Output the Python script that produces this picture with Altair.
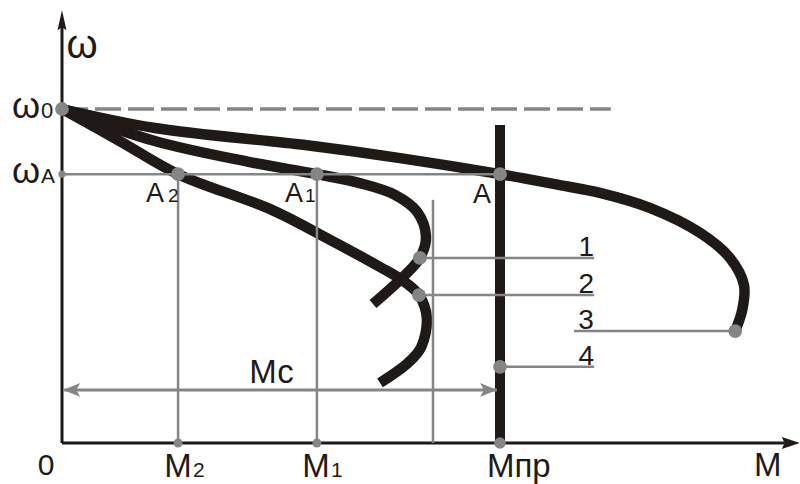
import altair as alt
import pandas as pd

# --- values (ω0 = 100 speed units, Mпр = 100 torque units) ---
W0 = 100.0          # ideal no-load speed ω0
WA = 80.5           # speed ωA of the working points
M_PR = 100.0        # limiting torque Mпр
M1 = 58.2           # torque at A1
M2 = 26.5           # torque at A2
MC_LEVEL = 15.9     # height of the Mс dimension arrow
DASH_END = 125.3    # end of the ω0 dashed line
PR_TOP = 95.2       # top of the Mпр line
GUIDE_M = 84.7      # vertical guide line near the turning points
GUIDE_TOP = 72.8

# mechanical characteristics 1, 2, 3 (M, ω)
curve1_m = [0, 21.2, 42.9, 58.2, 68.0, 76.0, 81.1, 83.1, 81.7, 77.6, 71.0]
curve1_w = [100, 90.4, 84.1, 80.5, 77.8, 74.3, 69.2, 61.7, 55.4, 49.4, 41.6]
curve2_m = [0, 13.2, 26.5, 47.9, 61.2, 72.6, 77.6, 81.5, 83.3, 82.0, 79.0, 72.6]
curve2_w = [100, 90.4, 80.5, 69.8, 60.8, 52.7, 48.8, 44.3, 37.4, 28.7, 24.0, 18.0]
curve3_m = [0, 21.2, 55.5, 77.2, 100, 113.7, 122.8, 134.2, 145.7, 152.5, 155.7, 155.3, 153.7]
curve3_w = [100, 94.3, 89.2, 85.3, 80.5, 77.2, 74.9, 70.4, 62.9, 55.4, 47.3, 39.8, 33.5]

# leader lines for the curve numbers 1..4
leader_names = ["1", "2", "3", "4"]
leader_w = [55.4, 44.3, 33.5, 22.8]
leader_m_start = [81.7, 81.5, 116.9, 100.0]
leader_m_end = [121.5, 121.5, 153.7, 121.5]
leader_point_m = [81.7, 81.5, 153.7, 100.0]

# axis extents
Y_AXIS_TOP = 126.0
Y_ARROW_W = 126.6
X_AXIS_END = 165.0
X_ARROW_M = 166.4
MC_LEFT = 2.2
MC_RIGHT = 97.4

INK = "#1f1a17"
GRAY = "#858585"
FONT = "Liberation Sans"

XS = alt.Scale(domain=[-14.155, 168.493], nice=False, zero=False)
YS = alt.Scale(domain=[-12.275, 132.635], nice=False, zero=False)


def xy(chart, x2=False, y2=False):
    enc = dict(x=alt.X("m:Q", scale=XS, axis=None), y=alt.Y("w:Q", scale=YS, axis=None))
    if x2:
        enc["x2"] = "m2:Q"
    if y2:
        enc["y2"] = "w2:Q"
    return chart.encode(**enc)


def seg(m, w, m2, w2, color, width, dash=None):
    df = pd.DataFrame({"m": m, "w": w, "m2": m2, "w2": w2})
    kw = dict(color=color, strokeWidth=width)
    if dash:
        kw["strokeDash"] = dash
    return xy(alt.Chart(df).mark_rule(**kw), x2=True, y2=True)


def curve(ms, ws):
    df = pd.DataFrame({"m": ms, "w": ws, "i": range(len(ms))})
    return xy(alt.Chart(df).mark_line(interpolate="catmull-rom", color=INK,
                                      strokeWidth=10.5, strokeCap="butt")).encode(order="i:Q")


def dots(ms, ws, size):
    df = pd.DataFrame({"m": ms, "w": ws})
    return xy(alt.Chart(df).mark_circle(color=GRAY, size=size, opacity=1))


def arrow(m, w, shape, size, angle, color):
    df = pd.DataFrame({"m": [m], "w": [w]})
    return xy(alt.Chart(df).mark_point(shape=shape, size=size, angle=angle, filled=True,
                                       color=color, opacity=1, strokeWidth=0))


def label(text, m, w, dx, dy, size, align="center"):
    df = pd.DataFrame({"m": [m], "w": [w]})
    return xy(alt.Chart(df).mark_text(text=text, dx=dx, dy=dy, fontSize=size, align=align,
                                      baseline="alphabetic", font=FONT, color=INK))


AXIS_HEAD = "M0,-1L0.45,1L0,0.7L-0.45,1Z"
XAXIS_HEAD = "M0,-1L0.67,1L0,0.7L-0.67,1Z"
DIM_HEAD = "M0,-1L0.82,1L0,0.55L-0.82,1Z"

layers = [
    # ω0 dashed level
    seg([0], [W0], [DASH_END], [W0], GRAY, 3.3, [26, 7]),
    # axes
    seg([0], [0], [0], [Y_AXIS_TOP], INK, 3),
    seg([0], [0], [X_AXIS_END], [0], INK, 3),
    arrow(0, Y_ARROW_W, AXIS_HEAD, 400, 0, INK),
    arrow(X_ARROW_M, 0, XAXIS_HEAD, 324, 90, INK),
    # characteristics
    curve(curve1_m, curve1_w),
    curve(curve2_m, curve2_w),
    curve(curve3_m, curve3_w),
    seg([M_PR], [0], [M_PR], [PR_TOP], INK, 10),
    # gray construction lines
    seg([0], [WA], [M_PR], [WA], GRAY, 2.5),
    seg([M2, M1], [0, 0], [M2, M1], [WA, WA], GRAY, 2.5),
    seg([GUIDE_M], [0], [GUIDE_M], [GUIDE_TOP], GRAY, 2.5),
    seg(leader_m_start, leader_w, leader_m_end, leader_w, GRAY, 2.5),
    seg([0.5], [MC_LEVEL], [MC_RIGHT + 1.9], [MC_LEVEL], GRAY, 3),
    arrow(MC_LEFT, MC_LEVEL, DIM_HEAD, 289, 270, GRAY),
    arrow(MC_RIGHT, MC_LEVEL, DIM_HEAD, 289, 90, GRAY),
    # points
    dots([0, M2, M1, M_PR] + leader_point_m, [W0, WA, WA, WA] + leader_w, 190),
    dots([0], [WA], 50),
    dots([M2, M1], [0, 0], 80),
    dots([M_PR], [0], 135),
    # axis and point labels
    label("ω", 0, Y_ARROW_W, 20, 38, 40),
    label("ω", 0, W0, -36, 9, 36),
    label("0", 0, W0, -21, 9, 22, "left"),
    label("ω", 0, WA, -36, 9, 36),
    label("А", 0, WA, -21, 9, 21, "left"),
    label("А", M2, WA, -23, 28, 27),
    label("2", M2, WA, -10, 28, 19, "left"),
    label("А", M1, WA, -23, 28, 27),
    label("1", M1, WA, -12, 28, 19, "left"),
    label("А", M_PR, WA, -18, 29, 27),
    label("0", 0, 0, -16, 32, 30),
    label("М", M2, 0, 0, 34, 33),
    label("2", M2, 0, 15, 34, 21, "left"),
    label("М", M1, 0, -1, 34, 33),
    label("1", M1, 0, 14, 34, 21, "left"),
    label("Мпр", M_PR, 0, -13, 34, 33, "left"),
    label("М", X_ARROW_M, 0, -23, 33, 33),
    label("Мс", (0.5 + MC_RIGHT + 1.9) / 2, MC_LEVEL, -9, -7, 33),
]
for name, m_end, m_start, w in zip(leader_names, leader_m_end, leader_m_start, leader_w):
    if name == "3":
        layers.append(label(name, m_start, w, 12, -2, 28))
    else:
        layers.append(label(name, m_end, w, -8, -2, 28))

chart = alt.layer(*layers).properties(
    width=800, height=484,
    autosize=alt.AutoSizeParams(type="none"),
    padding=0,
    background="white",
).configure_view(stroke=None)

chart.save("out.html", embed_options={"renderer": "svg", "actions": False})
